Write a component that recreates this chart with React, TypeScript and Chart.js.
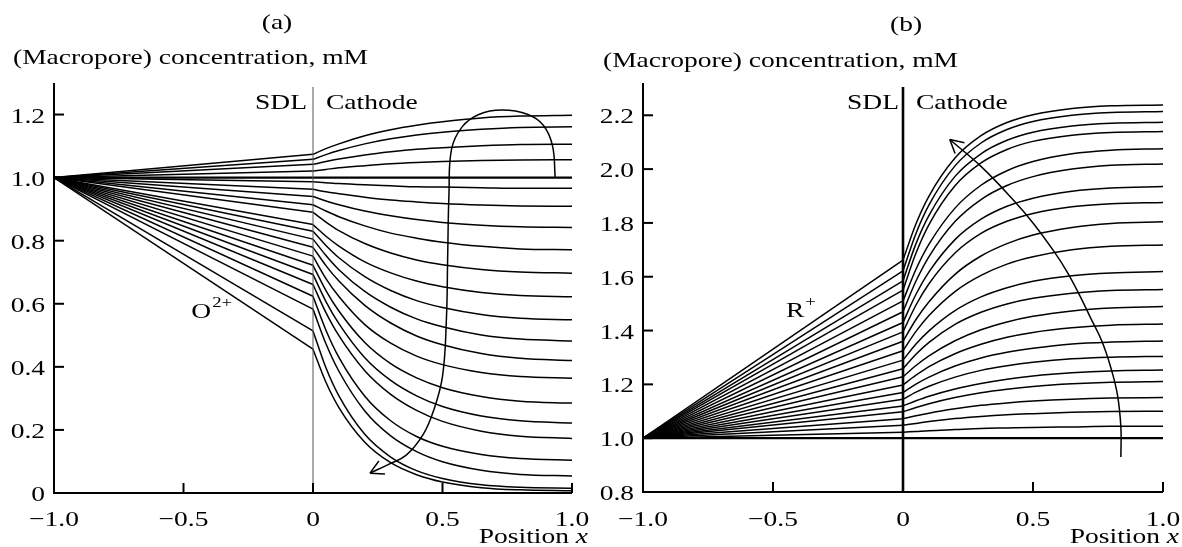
import React, { useEffect, useRef } from 'react';
import { Chart, registerables } from 'chart.js';

Chart.register(...registerables);

// ---- data ----
const SDL_X = [-1, 0];
const CATHODE_X = [0, 0.05, 0.1, 0.2, 0.3, 0.4, 0.5, 0.65, 0.8, 1.0];
const INLET_VALUE = 1.0;

// (a) O2+ macropore concentration in the cathode, one row per curve (values at CATHODE_X)
const O2_CURVES = [
  [1.074, 1.092, 1.107, 1.133, 1.152, 1.166, 1.177, 1.189, 1.195, 1.198],
  [1.058, 1.073, 1.086, 1.107, 1.123, 1.135, 1.144, 1.153, 1.159, 1.161],
  [1.042, 1.051, 1.059, 1.072, 1.082, 1.090, 1.095, 1.101, 1.105, 1.106],
  [1.021, 1.026, 1.031, 1.038, 1.044, 1.048, 1.051, 1.054, 1.056, 1.057],
  [1.0, 1.0, 1.0, 1.0, 1.0, 1.0, 1.0, 1.0, 1.0, 1.0],
  [0.987, 0.984, 0.981, 0.977, 0.974, 0.971, 0.970, 0.968, 0.966, 0.966],
  [0.963, 0.955, 0.949, 0.938, 0.929, 0.923, 0.918, 0.913, 0.910, 0.909],
  [0.940, 0.926, 0.914, 0.894, 0.879, 0.867, 0.858, 0.849, 0.844, 0.842],
  [0.914, 0.894, 0.876, 0.847, 0.824, 0.808, 0.795, 0.782, 0.774, 0.771],
  [0.890, 0.859, 0.832, 0.791, 0.761, 0.739, 0.724, 0.709, 0.701, 0.697],
  [0.851, 0.814, 0.783, 0.733, 0.698, 0.672, 0.654, 0.636, 0.626, 0.622],
  [0.830, 0.785, 0.746, 0.686, 0.642, 0.610, 0.588, 0.566, 0.554, 0.549],
  [0.805, 0.753, 0.708, 0.639, 0.589, 0.552, 0.527, 0.501, 0.488, 0.482],
  [0.779, 0.721, 0.672, 0.595, 0.539, 0.498, 0.470, 0.442, 0.427, 0.420],
  [0.751, 0.680, 0.623, 0.534, 0.475, 0.434, 0.407, 0.382, 0.369, 0.364],
  [0.722, 0.642, 0.577, 0.477, 0.410, 0.365, 0.334, 0.306, 0.291, 0.285],
  [0.693, 0.607, 0.537, 0.429, 0.357, 0.308, 0.274, 0.244, 0.229, 0.222],
  [0.661, 0.572, 0.499, 0.388, 0.313, 0.262, 0.227, 0.196, 0.180, 0.173],
  [0.624, 0.516, 0.430, 0.307, 0.229, 0.179, 0.148, 0.122, 0.109, 0.104],
  [0.583, 0.473, 0.386, 0.260, 0.181, 0.131, 0.099, 0.072, 0.059, 0.054],
  [0.514, 0.397, 0.308, 0.186, 0.114, 0.071, 0.046, 0.026, 0.018, 0.015],
  [0.456, 0.351, 0.271, 0.161, 0.096, 0.058, 0.035, 0.017, 0.010, 0.007],
];

// (b) R+ macropore concentration in the cathode
const R_CURVES = [
  [1.662, 1.797, 1.900, 2.041, 2.124, 2.173, 2.202, 2.225, 2.235, 2.238],
  [1.622, 1.761, 1.867, 2.012, 2.097, 2.147, 2.177, 2.200, 2.210, 2.214],
  [1.585, 1.723, 1.828, 1.973, 2.057, 2.107, 2.137, 2.160, 2.170, 2.174],
  [1.550, 1.688, 1.794, 1.938, 2.023, 2.073, 2.103, 2.126, 2.136, 2.140],
  [1.510, 1.628, 1.721, 1.855, 1.940, 1.994, 2.028, 2.057, 2.070, 2.076],
  [1.470, 1.584, 1.675, 1.805, 1.887, 1.939, 1.972, 2.000, 2.014, 2.019],
  [1.430, 1.535, 1.618, 1.738, 1.814, 1.862, 1.892, 1.918, 1.930, 1.935],
  [1.395, 1.495, 1.574, 1.688, 1.761, 1.806, 1.835, 1.860, 1.871, 1.876],
  [1.360, 1.441, 1.507, 1.609, 1.677, 1.723, 1.755, 1.783, 1.798, 1.804],
  [1.325, 1.397, 1.456, 1.545, 1.605, 1.647, 1.674, 1.700, 1.713, 1.718],
  [1.290, 1.350, 1.399, 1.474, 1.525, 1.559, 1.583, 1.604, 1.614, 1.619],
  [1.258, 1.312, 1.356, 1.423, 1.468, 1.499, 1.520, 1.539, 1.549, 1.553],
  [1.228, 1.270, 1.306, 1.362, 1.403, 1.432, 1.453, 1.473, 1.484, 1.489],
  [1.198, 1.234, 1.266, 1.314, 1.349, 1.375, 1.393, 1.410, 1.420, 1.424],
  [1.170, 1.201, 1.227, 1.268, 1.298, 1.319, 1.334, 1.350, 1.357, 1.361],
  [1.145, 1.171, 1.193, 1.227, 1.252, 1.269, 1.282, 1.295, 1.301, 1.304],
  [1.120, 1.139, 1.156, 1.183, 1.203, 1.219, 1.231, 1.243, 1.250, 1.253],
  [1.098, 1.114, 1.128, 1.151, 1.169, 1.182, 1.192, 1.202, 1.208, 1.211],
  [1.072, 1.083, 1.093, 1.109, 1.122, 1.131, 1.138, 1.145, 1.149, 1.151],
  [1.048, 1.055, 1.062, 1.073, 1.081, 1.087, 1.091, 1.096, 1.099, 1.100],
  [1.022, 1.025, 1.028, 1.032, 1.036, 1.038, 1.040, 1.042, 1.044, 1.044],
  [1.0, 1.0, 1.0, 1.0, 1.0, 1.0, 1.0, 1.0, 1.0, 1.0],
];

const X_TICKS = [-1, -0.5, 0, 0.5, 1];
const O2_Y_TICKS = [0, 0.2, 0.4, 0.6, 0.8, 1.0, 1.2];
const R_Y_TICKS = [0.8, 1.0, 1.2, 1.4, 1.6, 1.8, 2.0, 2.2];

// arrows showing the direction of increasing current
const O2_ARROW_X = [0.935, 0.925, 0.89, 0.83, 0.73, 0.64, 0.575, 0.535, 0.525, 0.52, 0.515, 0.50, 0.465, 0.425, 0.36, 0.29, 0.22];
const O2_ARROW_Y = [1.0, 1.10, 1.165, 1.20, 1.214, 1.20, 1.16, 1.09, 0.95, 0.75, 0.55, 0.37, 0.26, 0.185, 0.12, 0.09, 0.063];
const R_ARROW_X = [0.838, 0.838, 0.825, 0.80, 0.765, 0.72, 0.68, 0.63, 0.58, 0.50, 0.42, 0.30, 0.18];
const R_ARROW_Y = [0.93, 1.04, 1.16, 1.26, 1.36, 1.45, 1.53, 1.62, 1.695, 1.80, 1.89, 2.01, 2.11];

// ---- drawing helpers ----
const FONT = '"Liberation Serif", "Times New Roman", serif';
const SX = 1.25; // horizontal stretch of the reference lettering

function drawText(ctx: CanvasRenderingContext2D, s: string, x: number, y: number, align: string, size = 22, italic = false) {
  ctx.save();
  ctx.font = `${italic ? 'italic ' : ''}${size}px ${FONT}`;
  const w = ctx.measureText(s).width * SX;
  const x0 = align === 'right' ? x - w : align === 'center' ? x - w / 2 : x;
  ctx.translate(x0, y);
  ctx.scale(SX, 1);
  ctx.textAlign = 'left';
  ctx.textBaseline = 'alphabetic';
  ctx.fillStyle = '#000';
  ctx.fillText(s, 0, 0);
  ctx.restore();
  return w;
}

function textWidth(ctx: CanvasRenderingContext2D, s: string, size = 22, italic = false) {
  ctx.save();
  ctx.font = `${italic ? 'italic ' : ''}${size}px ${FONT}`;
  const w = ctx.measureText(s).width * SX;
  ctx.restore();
  return w;
}

function fmt(v: number) {
  if (Math.abs(v) < 1e-9) return '0';
  const s = Math.abs(v).toFixed(1);
  return v < 0 ? '\u2212' + s : s;
}

const decorPlugin = {
  id: 'panelDecor',
  afterDatasetsDraw(chart: any, _args: any, opts: any) {
    const ctx: CanvasRenderingContext2D = chart.ctx;
    const xs = chart.scales.x;
    const ys = chart.scales.y;
    const area = chart.chartArea;
    ctx.save();

    // SDL / cathode boundary
    const x0 = xs.getPixelForValue(0);
    ctx.beginPath();
    ctx.strokeStyle = opts.sdlColor;
    ctx.lineWidth = opts.sdlWidth;
    ctx.moveTo(x0, area.bottom);
    ctx.lineTo(x0, area.top + 4);
    ctx.stroke();

    // axes
    ctx.strokeStyle = '#000';
    ctx.lineWidth = 2;
    ctx.beginPath();
    ctx.moveTo(area.left, area.top);
    ctx.lineTo(area.left, area.bottom);
    ctx.lineTo(area.right, area.bottom);
    ctx.stroke();

    // y ticks + labels
    ctx.lineWidth = 2;
    for (const v of opts.yTicks) {
      const y = ys.getPixelForValue(v);
      ctx.beginPath();
      ctx.moveTo(area.left, y);
      ctx.lineTo(area.left + 10, y);
      ctx.stroke();
      drawText(ctx, fmt(v), area.left - 9, y + 8, 'right');
    }
    // x ticks + labels
    for (const v of X_TICKS) {
      const x = xs.getPixelForValue(v);
      if (v > -1) {
        ctx.beginPath();
        ctx.moveTo(x, area.bottom);
        ctx.lineTo(x, area.bottom - 10);
        ctx.stroke();
      }
      drawText(ctx, fmt(v), x, 526, 'center');
    }

    // axis titles
    const wx = textWidth(ctx, 'x', 22, true);
    const posRight = area.right + 16;
    drawText(ctx, 'x', posRight, 543, 'right', 22, true);
    drawText(ctx, 'Position ', posRight - wx, 543, 'right');
    drawText(ctx, '(Macropore) concentration, mM', opts.yTitleX, opts.yTitleY, 'left');
    drawText(ctx, opts.panel, x0 + opts.panelDx, opts.panelY, 'center');

    // region labels
    drawText(ctx, 'SDL', x0 - opts.sdlGap, 109, 'right');
    drawText(ctx, 'Cathode', x0 + 13, 109, 'left');

    // species label with superscript
    const sx = xs.getPixelForValue(opts.speciesAt[0]);
    const sy = ys.getPixelForValue(opts.speciesAt[1]);
    const w1 = drawText(ctx, opts.species, sx, sy, 'left');
    drawText(ctx, opts.charge, sx + w1 + 1, sy - 11, 'left', 15);

    // arrow head at the end of the arrow path
    const ax = opts.arrowX, ay = opts.arrowY;
    const n = ax.length;
    const tx = xs.getPixelForValue(ax[n - 1]);
    const ty = ys.getPixelForValue(ay[n - 1]);
    const px = xs.getPixelForValue(ax[n - 2]);
    const py = ys.getPixelForValue(ay[n - 2]);
    const ang = Math.atan2(ty - py, tx - px);
    ctx.strokeStyle = '#000';
    ctx.lineWidth = 1.5;
    for (const s of [-1, 1]) {
      const a = ang + Math.PI + s * 0.5;
      ctx.beginPath();
      ctx.moveTo(tx, ty);
      ctx.lineTo(tx + 15 * Math.cos(a), ty + 15 * Math.sin(a));
      ctx.stroke();
    }
    ctx.restore();
  },
};

function buildDatasets(curves: number[][], arrowX: number[], arrowY: number[]) {
  const ds: any[] = [];
  curves.forEach((c) => {
    const flat = c.every((v) => v === c[0]) && c[0] === INLET_VALUE;
    const bw = flat ? 2.2 : 1.5;
    ds.push({
      data: SDL_X.map((x, i) => ({ x, y: i === 0 ? INLET_VALUE : c[0] })),
      borderColor: '#000',
      borderWidth: bw,
      tension: 0,
      pointRadius: 0,
      fill: false,
    });
    ds.push({
      data: CATHODE_X.map((x, i) => ({ x, y: c[i] })),
      borderColor: '#000',
      borderWidth: bw,
      cubicInterpolationMode: 'monotone',
      pointRadius: 0,
      fill: false,
    });
  });
  ds.push({
    data: arrowX.map((x, i) => ({ x, y: arrowY[i] })),
    borderColor: '#000',
    borderWidth: 1.5,
    tension: 0.4,
    pointRadius: 0,
    fill: false,
  });
  return ds;
}

function Panel(props: { left: number; padding: any; yMin: number; yMax: number; curves: number[][]; decor: any; arrowX: number[]; arrowY: number[] }) {
  const ref = useRef<HTMLCanvasElement | null>(null);
  useEffect(() => {
    if (!ref.current) return;
    const chart = new Chart(ref.current, {
      type: 'line',
      data: { datasets: buildDatasets(props.curves, props.arrowX, props.arrowY) },
      options: {
        animation: false,
        responsive: false,
        events: [],
        layout: { padding: props.padding },
        elements: { point: { radius: 0 } },
        plugins: {
          legend: { display: false },
          tooltip: { enabled: false },
          panelDecor: { ...props.decor, arrowX: props.arrowX, arrowY: props.arrowY },
        } as any,
        scales: {
          x: { type: 'linear', min: -1, max: 1, display: false },
          y: { type: 'linear', min: props.yMin, max: props.yMax, display: false },
        },
      },
      plugins: [decorPlugin as any],
    });
    return () => chart.destroy();
  }, []);
  return (
    <canvas
      ref={ref}
      width={591}
      height={547}
      style={{ position: 'absolute', left: props.left, top: 0, width: 591, height: 547 }}
    />
  );
}

export default function App() {
  return (
    <div style={{ position: 'absolute', left: 0, top: 0, width: 1182, height: 547, background: '#fff' }}>
      <Panel
        left={0}
        padding={{ left: 54, right: 19, top: 83, bottom: 54 }}
        yMin={0}
        yMax={1.3}
        curves={O2_CURVES}
        arrowX={O2_ARROW_X}
        arrowY={O2_ARROW_Y}
        decor={{
          yTicks: O2_Y_TICKS,
          sdlColor: '#555',
          sdlWidth: 1,
          sdlGap: 6,
          panel: '(a)',
          panelDx: -36,
          panelY: 29,
          yTitleX: 13,
          yTitleY: 64,
          species: 'O',
          charge: '2+',
          speciesAt: [-0.47, 0.556],
        }}
      />
      <Panel
        left={591}
        padding={{ left: 52, right: 19, top: 83, bottom: 55 }}
        yMin={0.8}
        yMax={2.32}
        curves={R_CURVES}
        arrowX={R_ARROW_X}
        arrowY={R_ARROW_Y}
        decor={{
          yTicks: R_Y_TICKS,
          sdlColor: '#000',
          sdlWidth: 2.6,
          sdlGap: 4,
          panel: '(b)',
          panelDx: 3,
          panelY: 31,
          yTitleX: 12,
          yTitleY: 67,
          species: 'R',
          charge: '+',
          speciesAt: [-0.45, 1.45],
        }}
      />
    </div>
  );
}
